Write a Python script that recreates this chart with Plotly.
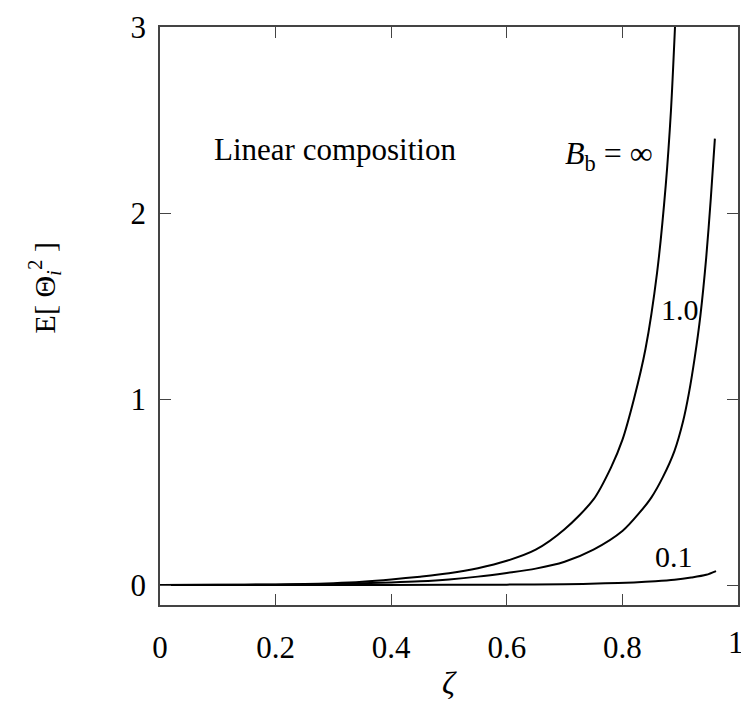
import plotly.graph_objects as go

# Data
x_inf = [0, 0.1, 0.2, 0.25, 0.3, 0.35, 0.4, 0.45, 0.5, 0.55, 0.6, 0.65, 0.7, 0.75, 0.78,
         0.8, 0.82, 0.84, 0.86, 0.875, 0.884, 0.891]
y_inf = [0, 0.001, 0.003, 0.005, 0.01, 0.018, 0.03, 0.045, 0.063, 0.09, 0.13, 0.19, 0.30, 0.46,
         0.63, 0.78, 1.0, 1.27, 1.68, 2.15, 2.55, 3.0]

x_b1 = [0, 0.2, 0.3, 0.4, 0.45, 0.5, 0.55, 0.6, 0.65, 0.7, 0.75, 0.8, 0.83, 0.85, 0.87,
        0.89, 0.905, 0.915, 0.925, 0.935, 0.945, 0.953, 0.960]
y_b1 = [0, 0.002, 0.006, 0.014, 0.02, 0.03, 0.045, 0.065, 0.088, 0.125, 0.19, 0.29, 0.39, 0.47,
        0.58, 0.72, 0.88, 1.03, 1.22, 1.45, 1.76, 2.08, 2.40]

x_b01 = [0, 0.3, 0.5, 0.6, 0.7, 0.77, 0.82, 0.857, 0.89, 0.919, 0.945, 0.962]
y_b01 = [0, 0.0005, 0.001, 0.002, 0.004, 0.009, 0.014, 0.02, 0.028, 0.04, 0.055, 0.075]

x_ticks = [0, 0.2, 0.4, 0.6, 0.8, 1]
x_ticklabels = ["0", "0.2", "0.4", "0.6", "0.8", "1"]
y_ticks = [0, 1, 2, 3]
y_ticklabels = ["0", "1", "2", "3"]

FONT = "Liberation Serif"

W, H = 741, 708
L, R, T, B = 160, 1, 27, 103
pw, ph = W - L - R, H - T - B


def px_x(px):
    return (px - L) / pw


def px_y(py):
    return 1 - (py - T) / ph


fig = go.Figure()
for xs, ys in [(x_inf, y_inf), (x_b1, y_b1), (x_b01, y_b01)]:
    fig.add_trace(go.Scatter(x=xs, y=ys, mode="lines",
                             line=dict(color="black", width=2, shape="spline", smoothing=0.8),
                             showlegend=False, hoverinfo="skip", cliponaxis=True))

axis_common = dict(showgrid=False, zeroline=False, showline=True, linecolor="#444",
                   linewidth=1.5, mirror="ticks", ticks="inside", ticklen=11,
                   tickwidth=1.2, tickcolor="#444",
                   tickfont=dict(family=FONT, size=31, color="black"))

fig.update_xaxes(range=[0, 1], tickvals=x_ticks, ticktext=x_ticklabels,
                 ticklabelstandoff=14, **axis_common)
fig.update_yaxes(range=[-0.1075, 3], tickvals=y_ticks, ticktext=y_ticklabels,
                 ticklabelstandoff=6, **axis_common)

txt = dict(family=FONT, size=30, color="black")
annotations = [
    dict(x=0.09, y=2.34, xref="x", yref="y", text="Linear composition", showarrow=False,
         font=dict(family=FONT, size=31, color="black"), xanchor="left", yanchor="middle"),
    dict(x=0.777, y=2.31, xref="x", yref="y", text="<i>B</i><sub>b</sub> = ∞", showarrow=False,
         font=dict(family=FONT, size=32, color="black"), xanchor="center", yanchor="middle"),
    dict(x=0.9, y=1.48, xref="x", yref="y", text="1.0", showarrow=False,
         font=txt, xanchor="center", yanchor="middle"),
    dict(x=0.89, y=0.155, xref="x", yref="y", text="0.1", showarrow=False,
         font=txt, xanchor="center", yanchor="middle"),
    dict(x=px_x(45), y=px_y(288), xref="paper", yref="paper",
         text="E[ Θ<sub><i>i</i></sub><sup>2</sup> ]",
         showarrow=False, textangle=-90, font=txt, xanchor="center", yanchor="middle"),
    dict(x=0.5, y=px_y(683), xref="paper", yref="paper", text="<i>ζ</i>", showarrow=False,
         font=dict(family=FONT, size=32, color="black"), xanchor="center", yanchor="middle"),
    # the "1" tick label at the right edge (partly cut off in the reference)
    dict(x=1, y=px_y(643), xref="x", yref="paper", text=x_ticklabels[-1], showarrow=False,
         font=dict(family=FONT, size=31, color="black"), xanchor="center", yanchor="middle",
         xshift=-2),
]

fig.update_layout(width=W, height=H, margin=dict(l=L, r=R, t=T, b=B),
                  plot_bgcolor="white", paper_bgcolor="white",
                  annotations=annotations)

fig.write_html("out.html")
